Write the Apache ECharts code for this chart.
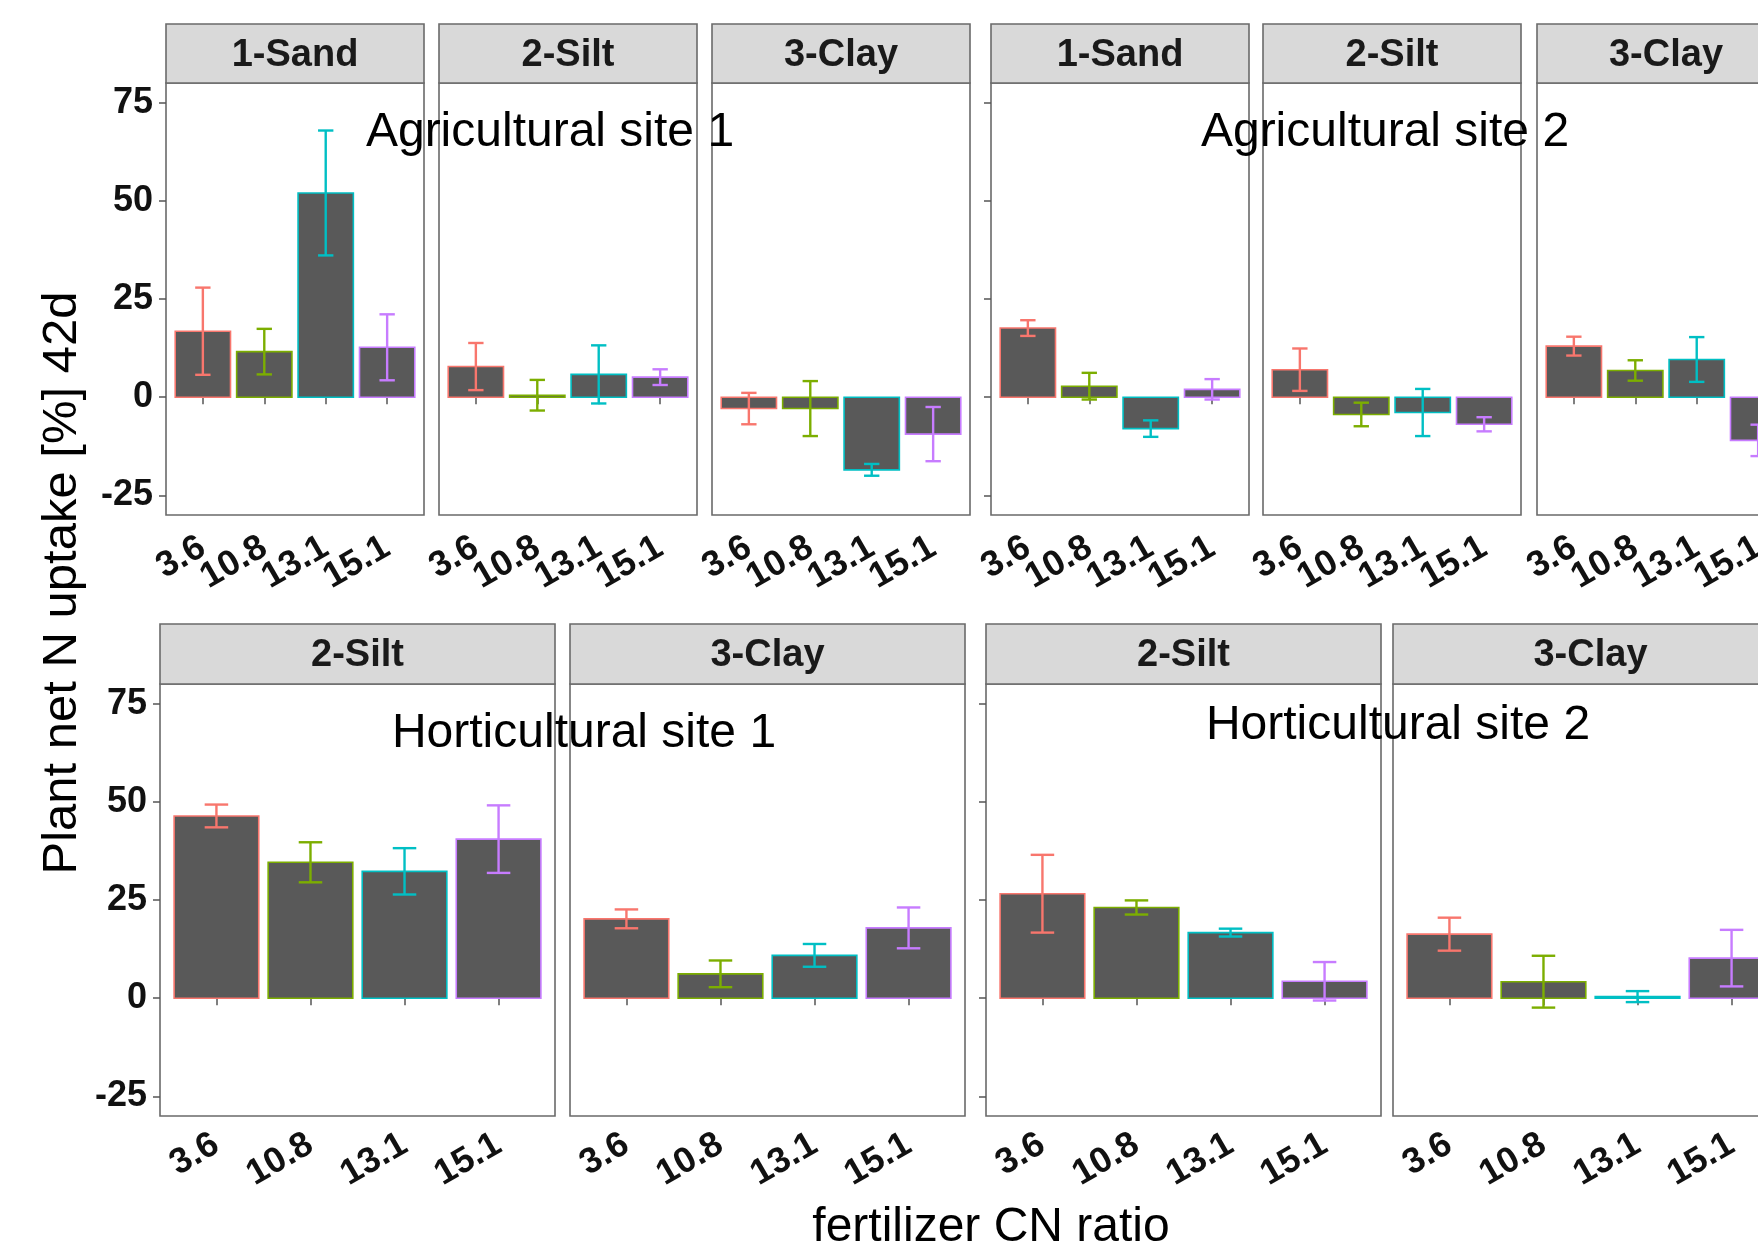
<!DOCTYPE html>
<html>
<head>
<meta charset="utf-8">
<script src="https://cdn.jsdelivr.net/npm/echarts@6/dist/echarts.min.js"></script>
<style>
html, body { margin: 0; padding: 0; background: #fff; overflow: hidden; }
#chart { width: 1758px; height: 1249px; }
</style>
</head>
<body>
<div id="chart"></div>
<script>
// fertilizer CN ratios (x categories)
var cnRatios = ['3.6', '10.8', '13.1', '15.1'];
var yTicks = [-25, 0, 25, 50, 75];

// plant net N uptake [%] after 42 d, mean and standard error per treatment
var agri1SandMean = [16.8, 11.6, 52.0, 12.7];
var agri1SandSe   = [11.1, 5.8, 15.9, 8.4];
var agri1SiltMean = [7.8, 0.5, 5.8, 5.1];
var agri1SiltSe   = [6.0, 3.9, 7.4, 2.0];
var agri1ClayMean = [-2.9, -2.9, -18.5, -9.4];
var agri1ClaySe   = [4.0, 7.0, 1.5, 6.9];

var agri2SandMean = [17.6, 2.8, -8.0, 2.0];
var agri2SandSe   = [2.0, 3.4, 2.1, 2.6];
var agri2SiltMean = [7.0, -4.4, -3.9, -6.9];
var agri2SiltSe   = [5.4, 3.0, 6.0, 1.8];
var agri2ClayMean = [13.0, 6.8, 9.6, -11.0];
var agri2ClaySe   = [2.4, 2.6, 5.7, 4.0];

var hort1SiltMean = [46.4, 34.6, 32.3, 40.5];
var hort1SiltSe   = [2.9, 5.1, 5.9, 8.6];
var hort1ClayMean = [20.2, 6.2, 10.9, 17.9];
var hort1ClaySe   = [2.4, 3.4, 2.9, 5.2];

var hort2SiltMean = [26.6, 23.1, 16.7, 4.3];
var hort2SiltSe   = [9.9, 1.8, 1.0, 4.9];
var hort2ClayMean = [16.3, 4.2, 0.4, 10.2];
var hort2ClaySe   = [4.2, 6.6, 1.4, 7.2];

var barColors = ['#F8766D', '#7CAE00', '#00BFC4', '#C77CFF'];
var font = '"Liberation Sans", Arial, sans-serif';

// panel layout (px)
var topRow = {top: 83, height: 432, stripTop: 24, width: 258, labelMargin: 30};
var bottomRow = {top: 684, height: 432, stripTop: 624, width: 395, labelMargin: 26};

var panels = [
    {row: topRow, left: 166, strip: '1-Sand', mean: agri1SandMean, se: agri1SandSe, labels: true, ticks: true},
    {row: topRow, left: 439, strip: '2-Silt', mean: agri1SiltMean, se: agri1SiltSe},
    {row: topRow, left: 712, strip: '3-Clay', mean: agri1ClayMean, se: agri1ClaySe},
    {row: topRow, left: 991, strip: '1-Sand', mean: agri2SandMean, se: agri2SandSe, ticks: true},
    {row: topRow, left: 1263, strip: '2-Silt', mean: agri2SiltMean, se: agri2SiltSe},
    {row: topRow, left: 1537, strip: '3-Clay', mean: agri2ClayMean, se: agri2ClaySe},
    {row: bottomRow, left: 160, strip: '2-Silt', mean: hort1SiltMean, se: hort1SiltSe, labels: true, ticks: true},
    {row: bottomRow, left: 570, strip: '3-Clay', mean: hort1ClayMean, se: hort1ClaySe},
    {row: bottomRow, left: 986, strip: '2-Silt', mean: hort2SiltMean, se: hort2SiltSe, ticks: true},
    {row: bottomRow, left: 1393, strip: '3-Clay', mean: hort2ClayMean, se: hort2ClaySe}
];

function renderBar(params, api) {
    var x = api.value(0), m = api.value(1), s = api.value(2);
    var c = barColors[x - 1];
    var a = api.coord([x - 0.45, m]);
    var b = api.coord([x + 0.45, 0]);
    var hi = api.coord([x, m + s]);
    var lo = api.coord([x, m - s]);
    var capL = api.coord([x - 0.125, 0])[0];
    var capR = api.coord([x + 0.125, 0])[0];
    var lineStyle = {stroke: c, lineWidth: 2.4};
    return {
        type: 'group',
        children: [
            {type: 'rect', shape: {x: a[0], y: Math.min(a[1], b[1]), width: b[0] - a[0], height: Math.abs(b[1] - a[1])},
                style: {fill: '#595959', stroke: c, lineWidth: 1.6}},
            {type: 'line', shape: {x1: hi[0], y1: hi[1], x2: lo[0], y2: lo[1]}, style: lineStyle},
            {type: 'line', shape: {x1: capL, y1: hi[1], x2: capR, y2: hi[1]}, style: lineStyle},
            {type: 'line', shape: {x1: capL, y1: lo[1], x2: capR, y2: lo[1]}, style: lineStyle}
        ]
    };
}

function xLabelAxis(i, margin, values, withTicks) {
    return {
        type: 'value', gridIndex: i, position: 'bottom', min: 0.4, max: 4.6,
        splitLine: {show: false}, axisLine: {show: false},
        axisTick: {show: withTicks, length: 7, customValues: [1, 2, 3, 4], lineStyle: {color: '#555', width: 1.5}},
        axisLabel: {
            customValues: values, rotate: 30, margin: margin,
            hideOverlap: false, showMinLabel: true, showMaxLabel: true,
            formatter: function (v) { return cnRatios[Math.round(v) - 1]; },
            fontSize: 36, fontWeight: 'bold', fontFamily: font, color: '#111'
        }
    };
}

var grids = [], xAxes = [], yAxes = [], series = [], graphics = [];
panels.forEach(function (p, i) {
    grids.push({
        left: p.left, top: p.row.top, width: p.row.width, height: p.row.height,
        show: true, backgroundColor: '#fff', borderColor: '#6a6a6a', borderWidth: 1.6,
        containLabel: false, outerBoundsMode: 'none'
    });
    // neighbouring rotated labels overlap in the narrow panels, so split them over two axes
    xAxes.push(xLabelAxis(i, p.row.labelMargin, [1, 3], true));
    yAxes.push({
        type: 'value', gridIndex: i, min: -30, max: 80,
        splitLine: {show: false}, axisLine: {show: false},
        axisTick: {show: !!p.ticks, length: 7, customValues: yTicks, lineStyle: {color: '#555', width: 1.5}},
        axisLabel: {
            show: !!p.labels, customValues: yTicks, margin: 13, hideOverlap: false,
            showMinLabel: true, showMaxLabel: true,
            fontSize: 36, fontWeight: 'bold', fontFamily: font, color: '#111'
        }
    });
    series.push({
        type: 'custom', xAxisIndex: i, yAxisIndex: i, clip: false,
        renderItem: renderBar,
        encode: {x: 0, y: 1},
        data: p.mean.map(function (m, k) { return [k + 1, m, p.se[k]]; })
    });
    var stripH = p.row.top - p.row.stripTop;
    graphics.push({
        type: 'rect', z: 10,
        shape: {x: p.left, y: p.row.stripTop, width: p.row.width, height: stripH},
        style: {fill: '#D9D9D9', stroke: '#6a6a6a', lineWidth: 1.6}
    });
    graphics.push({
        type: 'text', z: 11, x: p.left + p.row.width / 2, y: p.row.stripTop + stripH / 2 + 2,
        style: {text: p.strip, font: 'bold 38px ' + font, fill: '#1a1a1a',
            align: 'center', verticalAlign: 'middle', textAlign: 'center', textVerticalAlign: 'middle'}
    });
});
panels.forEach(function (p, i) {
    xAxes.push(xLabelAxis(i, p.row.labelMargin, [2, 4], false));
});

function label(text, x, y, size, rot) {
    return {
        type: 'text', z: 20, x: x, y: y, rotation: rot || 0,
        style: {text: text, font: size + 'px ' + font, fill: '#000',
            align: 'center', verticalAlign: 'middle', textAlign: 'center', textVerticalAlign: 'middle'}
    };
}
graphics.push(label('Agricultural site 1', 550, 133, 48));
graphics.push(label('Agricultural site 2', 1385, 133, 48));
graphics.push(label('Horticultural site 1', 584, 734, 48));
graphics.push(label('Horticultural site 2', 1398, 726, 48));
graphics.push(label('fertilizer CN ratio', 991, 1228, 48));
graphics.push(label('Plant net N uptake [%] 42d', 62, 583, 49, Math.PI / 2));

var chart = echarts.init(document.getElementById('chart'), null, {renderer: 'canvas'});
chart.setOption({
    animation: false,
    backgroundColor: '#fff',
    grid: grids,
    xAxis: xAxes,
    yAxis: yAxes,
    series: series,
    graphic: graphics
});
</script>
</body>
</html>
